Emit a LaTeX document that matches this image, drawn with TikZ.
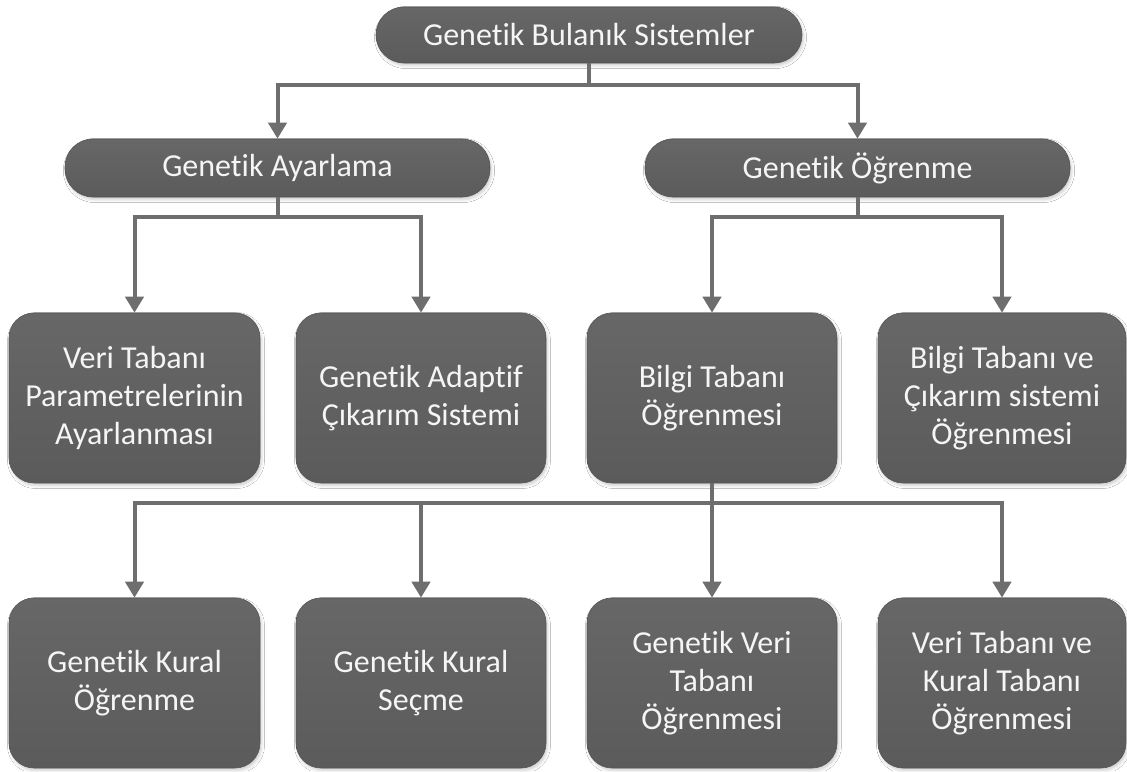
\documentclass[tikz,border=0pt]{standalone}
\usepackage{fontspec}
\setmainfont{Carlito}[Ligatures=NoCommon]
\usetikzlibrary{arrows.meta,shadows.blur}

\definecolor{boxtop}{HTML}{676767}
\definecolor{boxbot}{HTML}{5B5B5B}
\definecolor{boxline}{HTML}{555555}
\definecolor{connline}{HTML}{6E6E6E}
\definecolor{boxtext}{HTML}{F5F5F5}

\tikzset{
  box/.style={
    top color=boxtop, bottom color=boxbot, draw=boxline, line width=0.6pt,
    text=boxtext, align=center, inner sep=0pt,
    font=\fontsize{32}{38}\selectfont,
    blur shadow={shadow xshift=1.5pt, shadow yshift=-2.5pt,
                 shadow blur radius=3pt, shadow opacity=20}
  },
  pill/.style={box, rounded corners=28pt, minimum height=56pt},
  card/.style={box, rounded corners=25pt, minimum height=170pt},
  conn/.style={draw=connline, line width=4pt,
    -{Triangle[width=18pt,length=16pt]}},
}

\begin{document}
\begin{tikzpicture}[x=1pt,y=-1pt]
  \useasboundingbox[fill=white] (0,0) rectangle (1127,771);

  % root
  \node[pill, minimum width=426pt] (root) at (589,35) {Genetik Bulanık Sistemler};

  % second level
  \node[pill, minimum width=425pt, minimum height=58pt] (ay) at (277.5,168) {Genetik Ayarlama};
  \node[pill, minimum width=425pt, minimum height=58pt] (og) at (857.5,168) {Genetik Öğrenme};

  % third level
  \node[card, minimum width=251pt] (vtp) at (134.5,398) {Veri Tabanı\\Parametrelerinin\\Ayarlanması};
  \node[card, minimum width=250pt] (gac) at (421,398) {Genetik Adaptif\\Çıkarım Sistemi};
  \node[card, minimum width=250pt] (bto) at (712,398) {Bilgi Tabanı\\Öğrenmesi};
  \node[card, minimum width=248pt] (bcs) at (1002,398) {Bilgi Tabanı ve\\Çıkarım sistemi\\Öğrenmesi};

  % fourth level
  \node[card, minimum width=251pt] (gko) at (134.5,683) {Genetik Kural\\Öğrenme};
  \node[card, minimum width=250pt] (gks) at (421,683) {Genetik Kural\\Seçme};
  \node[card, minimum width=250pt] (gvt) at (712,683) {Genetik Veri\\Tabanı\\Öğrenmesi};
  \node[card, minimum width=248pt] (vkt) at (1002,683) {Veri Tabanı ve\\Kural Tabanı\\Öğrenmesi};

  % connectors
  \draw[conn] (root.south) -- ++(0,22) -| (ay.north);
  \draw[conn] (root.south) -- ++(0,22) -| (og.north);

  \draw[conn] (ay.south) -- ++(0,20) -| (vtp.north);
  \draw[conn] (ay.south) -- ++(0,20) -| (gac.north);
  \draw[conn] (og.south) -- ++(0,20) -| (bto.north);
  \draw[conn] (og.south) -- ++(0,20) -| (bcs.north);

  \draw[conn] (bto.south) -- ++(0,20) -| (gko.north);
  \draw[conn] (bto.south) -- ++(0,20) -| (gks.north);
  \draw[conn] (bto.south) -- (gvt.north);
  \draw[conn] (bto.south) -- ++(0,20) -| (vkt.north);
\end{tikzpicture}
\end{document}
